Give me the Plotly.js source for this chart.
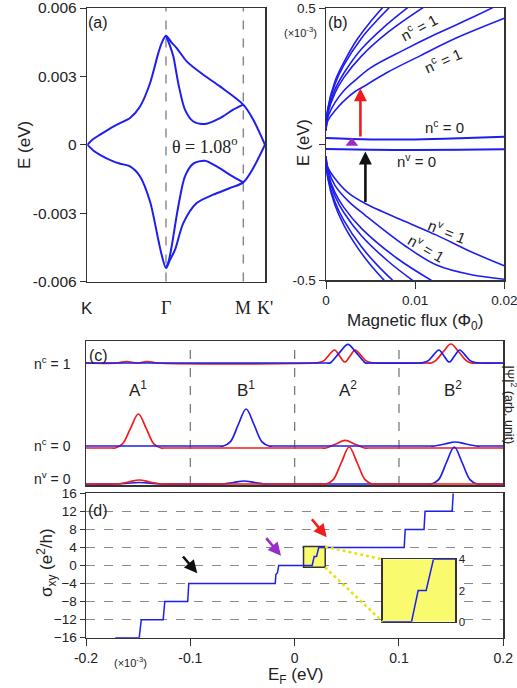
<!DOCTYPE html>
<html><head><meta charset="utf-8">
<script src="https://cdn.plot.ly/plotly-3.0.1.min.js"></script>
<style>html,body{margin:0;padding:0;background:#fff}#chart{width:517px;height:688px}</style>
</head><body><div id="chart"></div>
<script>
// ================= DATA =================
// (a) band structure along K - Γ - M - K'
const kPathLabels = ['K', 'Γ', 'M', "K'"];
const kPathPos = [0, 1, 1.982, 2.258];
const aUpOuterK = [0, 0.076, 0.161, 0.330, 0.416, 0.543, 0.670, 0.797, 0.902, 0.945, 1.0, 1.072, 1.136, 1.263, 1.474, 1.686, 1.982, 2.109, 2.258];
const aUpOuterE = [0, 0.00025, 0.00044, 0.0008, 0.00095, 0.00117, 0.00168, 0.0027, 0.00402, 0.00446, 0.00478, 0.00448, 0.00424, 0.00366, 0.00307, 0.00256, 0.00176, 0.0011, 0];
const aUpInnerK = [1.0, 1.05, 1.093, 1.156, 1.241, 1.347, 1.496, 1.686, 1.855, 1.982];
const aUpInnerE = [0.00478, 0.00435, 0.00388, 0.0027, 0.00154, 0.00102, 0.00091, 0.00117, 0.00154, 0.00176];
const aLowOuterK = [0, 0.076, 0.161, 0.330, 0.416, 0.543, 0.670, 0.797, 0.902, 0.945, 1.0, 1.051, 1.114, 1.220, 1.390, 1.601, 1.813, 1.982, 2.109, 2.258];
const aLowOuterE = [0, -0.00025, -0.00044, -0.00073, -0.00083, -0.00095, -0.00139, -0.00249, -0.00417, -0.00483, -0.00541, -0.00505, -0.00461, -0.00344, -0.00256, -0.00219, -0.0019, -0.00165, -0.00102, 0];
const aLowInnerK = [1.0, 1.035, 1.072, 1.156, 1.241, 1.347, 1.496, 1.644, 1.813, 1.982];
const aLowInnerE = [-0.00541, -0.0051, -0.00446, -0.00271, -0.00139, -0.00083, -0.0007, -0.00095, -0.00132, -0.00165];
const aYTicks = [-0.006, -0.003, 0, 0.003, 0.006];
const aYTickText = ['-0.006', '-0.003', '0', '0.003', '0.006'];

// (b) Landau levels vs magnetic flux (E in 1e-3 eV)
const bC1x = [0, 0.0002, 0.001, 0.002, 0.0035, 0.005, 0.0065];
const bC1y = [0.05, 0.13, 0.23, 0.30, 0.385, 0.45, 0.507];
const bC2x = [0, 0.0002, 0.001, 0.002, 0.004, 0.0055, 0.0072];
const bC2y = [0.05, 0.126, 0.22, 0.29, 0.39, 0.447, 0.505];
const bC3x = [0, 0.0002, 0.001, 0.002, 0.004, 0.0065, 0.0093];
const bC3y = [0.05, 0.117, 0.2, 0.26, 0.35, 0.43, 0.505];
const bC4x = [0, 0.0002, 0.001, 0.002, 0.004, 0.007, 0.011];
const bC4y = [0.05, 0.111, 0.187, 0.244, 0.324, 0.412, 0.504];
const bC5x = [0, 0.0002, 0.001, 0.002, 0.0033, 0.005, 0.0087, 0.0124, 0.0162, 0.0188];
const bC5y = [0.05, 0.097, 0.152, 0.196, 0.235, 0.28, 0.345, 0.405, 0.462, 0.503];
const bC6x = [0, 0.0002, 0.001, 0.0019, 0.0033, 0.0039, 0.0068, 0.0106, 0.0143, 0.02];
const bC6y = [0.05, 0.085, 0.122, 0.155, 0.194, 0.205, 0.262, 0.325, 0.385, 0.462];
const bV1x = [0, 0.0002, 0.001, 0.002, 0.0035, 0.005, 0.0066];
const bV1y = [-0.045, -0.125, -0.224, -0.298, -0.379, -0.445, -0.504];
const bV2x = [0, 0.0002, 0.001, 0.002, 0.004, 0.0058, 0.0076];
const bV2y = [-0.045, -0.12, -0.212, -0.281, -0.379, -0.447, -0.505];
const bV3x = [0, 0.0002, 0.001, 0.002, 0.004, 0.007, 0.0099];
const bV3y = [-0.045, -0.11, -0.191, -0.252, -0.338, -0.432, -0.506];
const bV4x = [0, 0.0002, 0.001, 0.002, 0.004, 0.008, 0.012];
const bV4y = [-0.045, -0.104, -0.178, -0.233, -0.311, -0.421, -0.505];
const bV5x = [0, 0.0002, 0.001, 0.0025, 0.0044, 0.0089, 0.0124, 0.0162, 0.02];
const bV5y = [-0.045, -0.09, -0.152, -0.21, -0.262, -0.375, -0.445, -0.48, -0.497];
const bV6x = [0, 0.0002, 0.001, 0.0025, 0.0044, 0.0089, 0.0124, 0.0162, 0.02];
const bV6y = [-0.045, -0.085, -0.127, -0.18, -0.219, -0.285, -0.335, -0.395, -0.448];
const bN0x = [0, 0.005, 0.01, 0.015, 0.02];
const bNc0y = [0.022, 0.017, 0.017, 0.021, 0.027];
const bNv0y = [-0.018, -0.021, -0.022, -0.021, -0.019];
const bMarkX = [0.0029];
const bMarkY = [0.004];

// (c) |Psi|^2 on sublattices A1 B1 A2 B2 (arb. unit, offset rows)
const cSectionLabels = ['A<sup>1</sup>', 'B<sup>1</sup>', 'A<sup>2</sup>', 'B<sup>2</sup>'];
const cRowLabels = ['n<sup>c</sup> = 1', 'n<sup>c</sup> = 0', 'n<sup>v</sup> = 0'];
const cNc1RedX = [0, 0.30, 0.39, 0.49, 0.59, 0.68, 2.19, 2.231, 2.281, 2.331, 2.382, 2.431, 2.481, 2.531, 2.580, 2.631, 2.681, 2.731, 2.77, 3.27, 3.31, 3.354, 3.426, 3.498, 3.570, 3.642, 3.69, 3.73, 4];
const cNc1RedY = [121, 121, 122.5, 121, 122.5, 121, 121, 121.4, 123.4, 129.2, 134, 128, 122, 128, 134, 129.2, 123.4, 121.4, 121, 121, 121, 123.6, 132.5, 140, 132.5, 123.6, 121, 121, 121];
const cNc1BlueX = [0, 2.30, 2.34, 2.366, 2.438, 2.510, 2.582, 2.654, 2.68, 2.72, 3.19, 3.232, 3.282, 3.332, 3.383, 3.432, 3.482, 3.532, 3.581, 3.632, 3.682, 3.732, 3.77, 4];
const cNc1BlueY = [121, 121, 121, 123.5, 132.4, 139.7, 132.4, 123.5, 121, 121, 121, 121.4, 123.4, 129.2, 134, 128, 122, 128, 134, 129.2, 123.4, 121.4, 121, 121];
const cNc0RedX = [0, 0.25, 0.28, 0.35, 0.427, 0.502, 0.577, 0.65, 0.72, 0.75, 2.26, 2.30, 2.39, 2.484, 2.58, 2.67, 2.71, 4];
const cNc0RedY = [36, 36, 36, 40.1, 55.7, 70, 55.7, 40.1, 36, 36, 36, 36, 39.8, 43.7, 39.8, 36, 36, 36];
const cNc0BlueX = [0, 1.28, 1.315, 1.385, 1.46, 1.535, 1.61, 1.685, 1.755, 1.79, 3.30, 3.34, 3.44, 3.54, 3.64, 3.74, 3.78, 4];
const cNc0BlueY = [38, 38, 38, 42.4, 59.5, 75, 59.5, 42.4, 38, 38, 38, 38, 40, 42, 40, 38, 38, 38];
const cNv0RedX = [0, 0.27, 0.31, 0.41, 0.511, 0.61, 0.71, 0.75, 2.27, 2.30, 2.37, 2.448, 2.523, 2.598, 2.675, 2.745, 2.78, 4];
const cNv0RedY = [0, 0, 0, 2, 4, 2, 0, 0, 0, 0, 4.4, 21.5, 37, 21.5, 4.4, 0, 0, 0];
const cNv0BlueX = [0, 0.30, 0.51, 0.72, 1.28, 1.32, 1.415, 1.515, 1.615, 1.71, 1.75, 3.27, 3.31, 3.38, 3.455, 3.53, 3.605, 3.68, 3.75, 3.79, 4];
const cNv0BlueY = [0, 0, 1.5, 0, 0, 0, 1.5, 3, 1.5, 0, 0, 0, 0, 4.4, 21.5, 37, 21.5, 4.4, 0, 0, 0];

// (d) Hall conductivity vs Fermi energy (E_F in 1e-3 eV)
const dEF = [-0.172, -0.149, -0.147, -0.126, -0.1245, -0.1025, -0.1015, -0.0186, -0.0180, -0.0165, -0.0153, 0.0168, 0.0187, 0.0210, 0.0231, 0.1050, 0.1060, 0.1240, 0.1250, 0.1510, 0.1520];
const dSigma = [-16, -16, -12, -12, -8, -8, -4, -4, -2, -1.6, 0, 0, 2, 2, 4, 4, 8, 8, 12, 12, 16];
const insetEF = [0.0085, 0.0168, 0.0187, 0.0210, 0.0231, 0.0293];
const insetSigma = [0, 0, 2, 2, 4, 4];
const dXTicks = [-0.2, -0.1, 0, 0.1, 0.2];
const dXTickText = ['-0.2', '-0.1', '0', '0.1', '0.2'];
const dYTicks = [-16, -12, -8, -4, 0, 4, 8, 12, 16];
const insetYTicks = [0, 2, 4];

// ================= STYLE / LAYOUT =================
const W = 517, H = 688;
const PX = v => v / W;
const PY = v => 1 - v / H;
const BLUE = '#1e1ef0', RED = '#f01c1c', PURPLE = '#9a2ccc', YEL = '#fafa6e';
const SANS = 'Liberation Sans, Arial, sans-serif';
const SERIF = 'Liberation Serif, Times New Roman, serif';
const AX = {showline: true, mirror: true, linecolor: '#333', linewidth: 1.5, showgrid: false, zeroline: false,
  tickcolor: '#333', ticklabeloverflow: 'allow'};

const insetRangeX = [insetEF[0], insetEF[insetEF.length - 1]];
const insetRangeY = [insetYTicks[0], insetYTicks[insetYTicks.length - 1]];

function line(x, y, xa, ya, color, w, smooth) {
  return {x, y, xaxis: xa, yaxis: ya, type: 'scatter', mode: 'lines', hoverinfo: 'skip',
    line: {color, width: w, shape: smooth ? 'spline' : 'linear', smoothing: smooth || 0}};
}

const traces = [
  line(aUpOuterK, aUpOuterE, 'x', 'y', BLUE, 2, 0.8),
  line(aUpInnerK, aUpInnerE, 'x', 'y', BLUE, 2, 0.8),
  line(aLowOuterK, aLowOuterE, 'x', 'y', BLUE, 2, 0.8),
  line(aLowInnerK, aLowInnerE, 'x', 'y', BLUE, 2, 0.8),

  line(bC1x, bC1y, 'x2', 'y2', BLUE, 1.6, 1),
  line(bC2x, bC2y, 'x2', 'y2', BLUE, 1.6, 1),
  line(bC3x, bC3y, 'x2', 'y2', BLUE, 1.6, 1),
  line(bC4x, bC4y, 'x2', 'y2', BLUE, 1.6, 1),
  line(bC5x, bC5y, 'x2', 'y2', BLUE, 1.6, 1),
  line(bC6x, bC6y, 'x2', 'y2', BLUE, 1.6, 1),
  line(bV1x, bV1y, 'x2', 'y2', BLUE, 1.6, 1),
  line(bV2x, bV2y, 'x2', 'y2', BLUE, 1.6, 1),
  line(bV3x, bV3y, 'x2', 'y2', BLUE, 1.6, 1),
  line(bV4x, bV4y, 'x2', 'y2', BLUE, 1.6, 1),
  line(bV5x, bV5y, 'x2', 'y2', BLUE, 1.6, 1),
  line(bV6x, bV6y, 'x2', 'y2', BLUE, 1.6, 1),
  line(bN0x, bNc0y, 'x2', 'y2', BLUE, 2, 1),
  line(bN0x, bNv0y, 'x2', 'y2', BLUE, 2, 1),
  {x: bMarkX, y: bMarkY, xaxis: 'x2', yaxis: 'y2', type: 'scatter', mode: 'markers', hoverinfo: 'skip',
    marker: {symbol: 'triangle-up', size: 11, color: PURPLE}},

  line(cNc1RedX, cNc1RedY, 'x3', 'y3', RED, 1.7, 1),
  line(cNc1BlueX, cNc1BlueY, 'x3', 'y3', BLUE, 1.7, 1),
  line(cNc0RedX, cNc0RedY, 'x3', 'y3', RED, 1.7, 1),
  line(cNc0BlueX, cNc0BlueY, 'x3', 'y3', BLUE, 1.7, 1),
  line(cNv0BlueX, cNv0BlueY, 'x3', 'y3', BLUE, 1.7, 1),
  line(cNv0RedX, cNv0RedY, 'x3', 'y3', RED, 1.7, 1),

  line(dEF, dSigma, 'x4', 'y4', BLUE, 1.5, 0),
  line(insetEF, insetSigma, 'x5', 'y5', BLUE, 1.5, 0)
];

function txt(x, y, text, size, opts) {
  return Object.assign({xref: 'paper', yref: 'paper', x: PX(x), y: PY(y), text, showarrow: false,
    font: {size, family: SANS, color: '#222'}, xanchor: 'center', yanchor: 'middle'}, opts || {});
}
function dtxt(xa, ya, x, y, text, size, angle) {
  return {xref: xa, yref: ya, x, y, text, showarrow: false, textangle: angle || 0,
    font: {size, family: SANS, color: '#222'}, xanchor: 'center', yanchor: 'middle'};
}
function parrow(x0, y0, x1, y1, color) {
  return {xref: 'paper', yref: 'paper', x: PX(x1), y: PY(y1), ax: x0 - x1, ay: y0 - y1, text: '',
    showarrow: true, arrowhead: 2, arrowsize: 1, arrowwidth: 2.6, arrowcolor: color};
}
function darrow(xa, ya, x, y0, y1, color) {
  return {xref: xa, yref: ya, axref: xa, ayref: ya, x: x, y: y1, ax: x, ay: y0, text: '',
    showarrow: true, arrowhead: 2, arrowsize: 1, arrowwidth: 2.6, arrowcolor: color};
}

const SERIF_FONT = {size: 18, family: SERIF, color: '#222'};
const cLabelX = [0.496, 1.534, 2.511, 3.518];
const annotations = [
  txt(98, 23, '(a)', 16), txt(338, 22, '(b)', 16), txt(98, 355, '(c)', 16), txt(98, 510, '(d)', 16),
  txt(87.3, 308, kPathLabels[0], 17),
  txt(166, 308, kPathLabels[1], 17, {font: SERIF_FONT}),
  txt(243.3, 308, kPathLabels[2], 17, {font: SERIF_FONT}),
  txt(265, 308, kPathLabels[3], 17, {font: SERIF_FONT}),
  txt(205, 145, 'θ = 1.08<sup>o</sup>', 17, {font: SERIF_FONT}),
  txt(24, 145, 'E (eV)', 17, {textangle: -90}),
  txt(303, 143, 'E (eV)', 16.5, {textangle: -90}),
  txt(300, 32, '(×10<sup>-3</sup>)', 11),
  txt(415, 321.5, 'Magnetic flux (Φ<sub>0</sub>)', 17),
  dtxt('x2', 'y2', 0.0104, 0.432, 'n<sup>c</sup> = 1', 15, -28),
  dtxt('x2', 'y2', 0.0131, 0.31, 'n<sup>c</sup> = 1', 15, -24),
  dtxt('x2', 'y2', 0.01334, 0.064, 'n<sup>c</sup> = 0', 15, 0),
  dtxt('x2', 'y2', 0.0102, -0.061, 'n<sup>v</sup> = 0', 15, 0),
  dtxt('x2', 'y2', 0.0136, -0.318, 'n<sup>v</sup> = 1', 15, 22),
  dtxt('x2', 'y2', 0.0113, -0.382, 'n<sup>v</sup> = 1', 15, 30),
  darrow('x2', 'y2', 0.00386, 0.022, 0.205, RED),
  darrow('x2', 'y2', 0.00442, -0.219, -0.028, '#111'),
  txt(73, 363, cRowLabels[0], 14, {xanchor: 'right'}),
  txt(73, 445, cRowLabels[1], 14, {xanchor: 'right'}),
  txt(73, 478, cRowLabels[2], 14, {xanchor: 'right'}),
  dtxt('x3', 'y3', cLabelX[0], 95, cSectionLabels[0], 17),
  dtxt('x3', 'y3', cLabelX[1], 95, cSectionLabels[1], 17),
  dtxt('x3', 'y3', cLabelX[2], 95, cSectionLabels[2], 17),
  dtxt('x3', 'y3', cLabelX[3], 95, cSectionLabels[3], 17),
  txt(510.5, 405, '|Ψ|<sup>2</sup> (arb. unit)', 12.5, {textangle: 90}),
  txt(46, 563, 'σ<sub>xy</sub> (e<sup>2</sup>/h)', 17, {textangle: -90}),
  txt(295, 676, 'E<sub>F</sub> (eV)', 17),
  txt(130, 662, '(×10<sup>-3</sup>)', 11),
  parrow(181.7, 555, 197.3, 573.3, '#111'),
  parrow(265, 536.7, 281, 555.7, PURPLE),
  parrow(310.7, 517.7, 326.7, 537.3, RED)
];

const DASH = {color: '#7a7a7a', width: 1.3, dash: 'dash'};
const domA = [PY(281.5), PY(8)], domC = [PY(485), PY(341)];
const shapes = [
  {type: 'line', xref: 'x', yref: 'paper', x0: kPathPos[1], x1: kPathPos[1], y0: domA[0], y1: domA[1], line: DASH, layer: 'below'},
  {type: 'line', xref: 'x', yref: 'paper', x0: kPathPos[2], x1: kPathPos[2], y0: domA[0], y1: domA[1], line: DASH, layer: 'below'},
  {type: 'line', xref: 'x3', yref: 'paper', x0: 1, x1: 1, y0: domC[0], y1: domC[1], line: DASH, layer: 'below'},
  {type: 'line', xref: 'x3', yref: 'paper', x0: 2, x1: 2, y0: domC[0], y1: domC[1], line: DASH, layer: 'below'},
  {type: 'line', xref: 'x3', yref: 'paper', x0: 3, x1: 3, y0: domC[0], y1: domC[1], line: DASH, layer: 'below'},
  {type: 'rect', xref: 'x4', yref: 'y4', x0: insetRangeX[0], x1: insetRangeX[1], y0: -0.4, y1: 4.2,
    fillcolor: YEL, line: {color: '#333', width: 1.5}, layer: 'between'},
  {type: 'rect', xref: 'x5', yref: 'y5', x0: insetRangeX[0], x1: insetRangeX[1], y0: insetRangeY[0], y1: insetRangeY[1],
    fillcolor: YEL, line: {width: 0}, layer: 'between'},
  {type: 'line', xref: 'paper', yref: 'paper', x0: PX(325), y0: PY(546.7), x1: PX(382.7), y1: PY(559.3),
    line: {color: '#e4e400', width: 2.5, dash: 'dot'}, layer: 'above'},
  {type: 'line', xref: 'paper', yref: 'paper', x0: PX(325), y0: PY(567.3), x1: PX(382.7), y1: PY(621.7),
    line: {color: '#e4e400', width: 2.5, dash: 'dot'}, layer: 'above'}
];

const layout = {
  width: W, height: H, margin: {l: 0, r: 0, t: 0, b: 0},
  paper_bgcolor: '#fff', plot_bgcolor: '#fff', showlegend: false,
  font: {family: SANS, color: '#222'},
  xaxis: Object.assign({}, AX, {domain: [PX(87.3), PX(265)], range: [0, kPathPos[3]], showticklabels: false, ticks: '', anchor: 'y'}),
  yaxis: Object.assign({}, AX, {domain: domA, range: [-0.006, 0.006], tickvals: aYTicks, ticktext: aYTickText,
    ticks: 'outside', ticklen: 6, tickfont: {size: 15.5}, anchor: 'x'}),
  xaxis2: Object.assign({}, AX, {domain: [PX(326), PX(504.3)], range: [0, 0.02], tickvals: [0, 0.01, 0.02], ticktext: ['0', '0.01', '0.02'],
    ticks: 'outside', ticklen: 7, tickfont: {size: 13.5}, anchor: 'y2'}),
  yaxis2: Object.assign({}, AX, {domain: [PY(280), PY(8)], range: [-0.5, 0.5], tickvals: [-0.5, 0, 0.5], ticktext: ['-0.5', '', '0.5'],
    ticks: 'outside', ticklen: 6, tickfont: {size: 13.5}, anchor: 'x2'}),
  xaxis3: Object.assign({}, AX, {domain: [PX(86), PX(503.3)], range: [0, 4], showticklabels: false, ticks: '', anchor: 'y3'}),
  yaxis3: Object.assign({}, AX, {domain: domC, range: [-1, 143], showticklabels: false, ticks: '', anchor: 'x3'}),
  xaxis4: Object.assign({}, AX, {domain: [PX(86), PX(503.3)], range: [-0.2, 0.2], tickvals: dXTicks, ticktext: dXTickText,
    ticks: 'outside', ticklen: 7, tickfont: {size: 14}, anchor: 'y4'}),
  yaxis4: Object.assign({}, AX, {domain: [PY(637.7), PY(493.3)], range: [-16, 16], tickvals: dYTicks,
    ticks: 'outside', ticklen: 5, tickfont: {size: 13.5}, showgrid: true, gridcolor: '#8a8a8a', griddash: 'dash', gridwidth: 1.3, anchor: 'x4'}),
  xaxis5: Object.assign({}, AX, {domain: [PX(382.7), PX(455)], range: insetRangeX, showticklabels: false, ticks: '', anchor: 'y5'}),
  yaxis5: Object.assign({}, AX, {domain: [PY(621.7), PY(559.3)], range: insetRangeY, tickvals: insetYTicks, side: 'right',
    ticks: '', tickfont: {size: 11.5}, showgrid: true, gridcolor: '#7a7a7a', griddash: 'dash', gridwidth: 1.3, anchor: 'x5'}),
  annotations, shapes
};

Plotly.newPlot('chart', traces, layout, {staticPlot: true, displayModeBar: false});
</script></body></html>
